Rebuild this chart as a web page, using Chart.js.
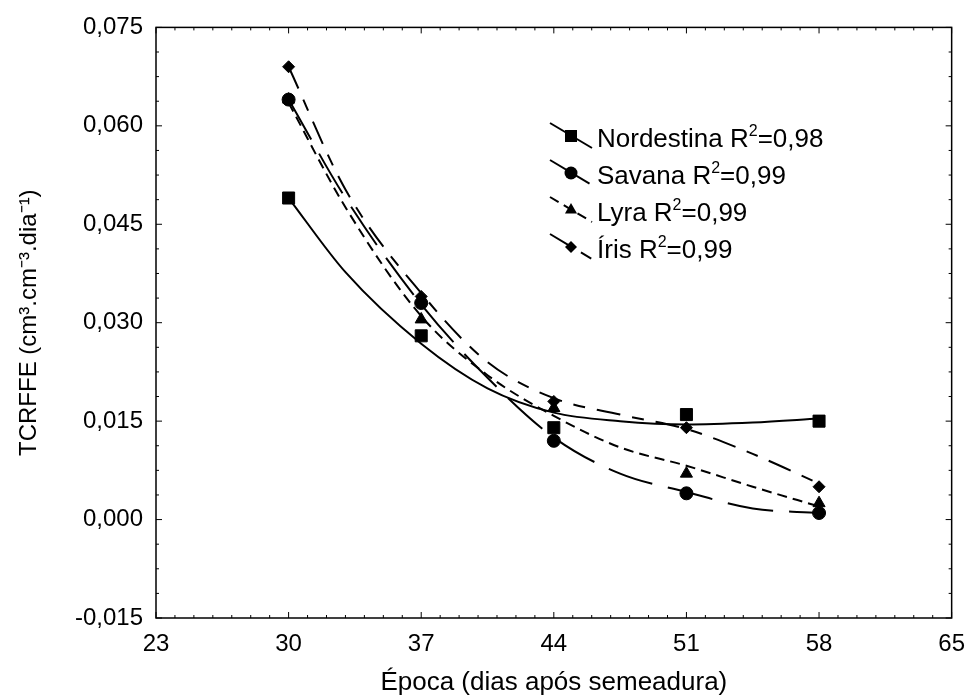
<!DOCTYPE html>
<html>
<head>
<meta charset="utf-8">
<script src="https://cdn.jsdelivr.net/npm/chart.js@4"></script>
<style>
  body { margin: 0; background: #fff; }
  #wrap { width: 977px; height: 698px; position: relative; }
</style>
</head>
<body>
<div id="wrap"><canvas id="chart"></canvas></div>
<script>
// measured points (dias apos semeadura)
const epocas = [30, 37, 44, 51, 58];
const nordestina = [0.049, 0.028, 0.014, 0.016, 0.015];
const savana = [0.064, 0.033, 0.012, 0.004, 0.001];
const lyra = [0.064, 0.0305, 0.017, 0.007, 0.0025];
const iris = [0.069, 0.034, 0.018, 0.014, 0.005];

// fitted curves
const curveX = [30, 33, 37, 40.5, 44, 47.5, 51, 54.5, 58];
const nordestinaFit = [0.049, 0.0377, 0.0268, 0.0200, 0.0163, 0.0150, 0.0145, 0.0148, 0.0154];
const savanaFit = [0.064, 0.049, 0.0328, 0.0216, 0.0125, 0.0070, 0.0042, 0.0017, 0.0010];
const lyraFit = [0.0635, 0.0476, 0.0310, 0.0220, 0.0158, 0.0110, 0.0082, 0.0050, 0.0020];
const irisFit = [0.069, 0.0503, 0.0345, 0.0240, 0.0185, 0.0160, 0.0138, 0.0100, 0.0055];

const seriesNames = ['Nordestina', 'Savana', 'Lyra', 'Íris'];
const r2Labels = ['0,98', '0,99', '0,99', '0,99'];

const xTicks = [23, 30, 37, 44, 51, 58, 65];
const yTicks = [-0.015, 0, 0.015, 0.03, 0.045, 0.06, 0.075];

const FONT = '"Liberation Sans", Arial, Helvetica, sans-serif';
const styles = ['rect', 'circle', 'triangle', 'rectRot'];
const radii = [8.5, 6.5, 7, 6];
const dashes = [[], [46, 16], [10, 6], [24, 12, 12, 12]];

const toXY = (xs, ys) => xs.map((x, i) => ({ x: x, y: ys[i] }));

const pointSets = [nordestina, savana, lyra, iris];
const fitSets = [nordestinaFit, savanaFit, lyraFit, irisFit];

let datasets = [];
fitSets.forEach((fit, i) => {
  datasets.push({
    label: seriesNames[i] + ' ajuste',
    data: toXY(curveX, fit),
    showLine: true,
    borderColor: '#000',
    borderWidth: 2,
    borderDash: dashes[i],
    pointRadius: 0,
    cubicInterpolationMode: 'monotone'
  });
});
pointSets.forEach((vals, i) => {
  datasets.push({
    label: seriesNames[i],
    data: toXY(epocas, vals),
    showLine: false,
    pointStyle: styles[i],
    pointRadius: radii[i],
    pointBackgroundColor: '#000',
    pointBorderColor: '#000',
    pointBorderWidth: 1
  });
});

function marker(ctx, style, r, x, y) {
  ctx.beginPath();
  if (style === 'rect') {
    const s = r * Math.SQRT1_2;
    ctx.rect(x - s, y - s, 2 * s, 2 * s);
  } else if (style === 'circle') {
    ctx.arc(x, y, r, 0, Math.PI * 2);
  } else if (style === 'triangle') {
    ctx.moveTo(x, y - r);
    ctx.lineTo(x + r * 0.866, y + r * 0.5);
    ctx.lineTo(x - r * 0.866, y + r * 0.5);
    ctx.closePath();
  } else {
    ctx.moveTo(x, y - r);
    ctx.lineTo(x + r, y);
    ctx.lineTo(x, y + r);
    ctx.lineTo(x - r, y);
    ctx.closePath();
  }
  ctx.fill();
}

// frame with inward ticks on all four sides
const framePlugin = {
  id: 'frame',
  afterDraw(chart) {
    const ctx = chart.ctx;
    const { left, right, top, bottom } = chart.chartArea;
    const xs = chart.scales.x, ys = chart.scales.y;
    ctx.save();
    ctx.strokeStyle = '#000';
    ctx.lineWidth = 1;
    ctx.beginPath();
    for (let v = 23; v <= 65; v += 1) {
      const px = xs.getPixelForValue(v);
      const len = (v - 23) % 7 === 0 ? 6 : 3;
      ctx.moveTo(px, bottom); ctx.lineTo(px, bottom - len);
      ctx.moveTo(px, top); ctx.lineTo(px, top + len);
    }
    for (let k = 0; k <= 24; k++) {
      const py = ys.getPixelForValue(-0.015 + k * 0.00375);
      const len = k % 4 === 0 ? 6 : 3;
      ctx.moveTo(left, py); ctx.lineTo(left + len, py);
      ctx.moveTo(right, py); ctx.lineTo(right - len, py);
    }
    ctx.stroke();
    ctx.lineWidth = 1.5;
    ctx.strokeRect(left, top, right - left, bottom - top);
    ctx.restore();
  }
};

const legendPlugin = {
  id: 'curveLegend',
  afterDraw(chart) {
    const ctx = chart.ctx;
    ctx.save();
    ctx.fillStyle = '#000';
    ctx.strokeStyle = '#000';
    seriesNames.forEach((name, i) => {
      const base = 147 + i * 37;
      ctx.lineWidth = 2;
      ctx.setLineDash(dashes[i]);
      ctx.beginPath();
      ctx.moveTo(550, base - 24);
      ctx.lineTo(592, base + 1);
      ctx.stroke();
      ctx.setLineDash([]);
      marker(ctx, styles[i], radii[i], 571, base - 11);
      ctx.textBaseline = 'alphabetic';
      ctx.textAlign = 'left';
      ctx.font = '26px ' + FONT;
      let x = 597;
      const first = name + ' R';
      ctx.fillText(first, x, base);
      x += ctx.measureText(first).width;
      ctx.font = '16px ' + FONT;
      ctx.fillText('2', x, base - 11);
      x += ctx.measureText('2').width;
      ctx.font = '26px ' + FONT;
      ctx.fillText('=' + r2Labels[i], x, base);
    });
    ctx.restore();
  }
};

new Chart(document.getElementById('chart'), {
  type: 'scatter',
  data: { datasets },
  options: {
    responsive: true,
    maintainAspectRatio: false,
    animation: false,
    layout: { padding: { top: 24, right: 17, left: 0, bottom: 0 } },
    plugins: { legend: { display: false }, tooltip: { enabled: false } },
    scales: {
      x: {
        type: 'linear',
        min: 23,
        max: 65,
        afterBuildTicks: s => { s.ticks = xTicks.map(v => ({ value: v })); },
        afterFit: s => { s.height = 80; },
        ticks: { color: '#000', font: { family: FONT, size: 24 }, padding: 12, maxRotation: 0 },
        grid: { display: false, drawTicks: false },
        border: { display: false },
        title: {
          display: true,
          text: 'Época (dias após semeadura)',
          color: '#000',
          font: { family: FONT, size: 26 },
          padding: { top: 0, bottom: 0 }
        }
      },
      y: {
        type: 'linear',
        min: -0.015,
        max: 0.075,
        afterBuildTicks: s => { s.ticks = yTicks.map(v => ({ value: v })); },
        afterFit: s => { s.width = 156; },
        ticks: {
          color: '#000',
          font: { family: FONT, size: 24 },
          padding: 13,
          callback: v => v.toFixed(3).replace('.', ',')
        },
        grid: { display: false, drawTicks: false },
        border: { display: false },
        title: {
          display: true,
          text: 'TCRFFE (cm³.cm⁻³.dia⁻¹)',
          color: '#000',
          font: { family: FONT, size: 24 },
          padding: { top: 15, bottom: 0 }
        }
      }
    }
  },
  plugins: [framePlugin, legendPlugin]
});
</script>
</body>
</html>
